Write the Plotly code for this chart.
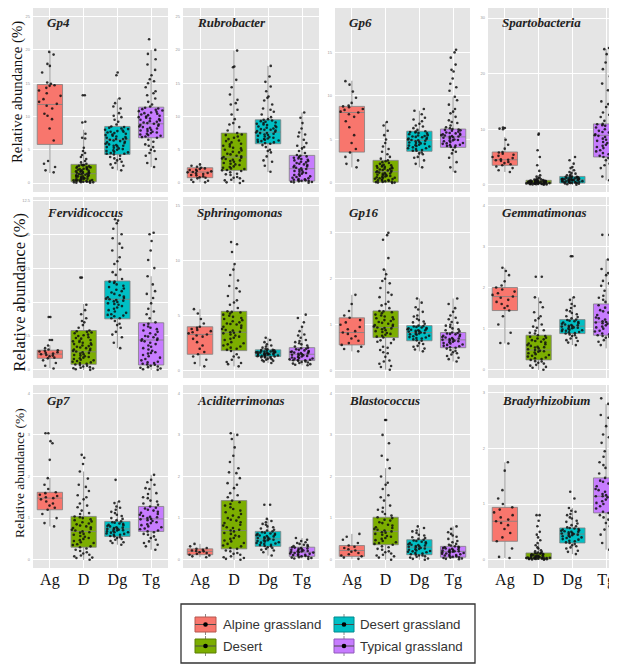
import plotly.graph_objects as go

# ---------------- data ----------------
groups = ["Ag", "D", "Dg", "Tg"]
group_names = ["Alpine grassland", "Desert", "Desert grassland", "Typical grassland"]
panel_titles = ["Gp4", "Rubrobacter", "Gp6", "Spartobacteria",
                "Fervidicoccus", "Sphringomonas", "Gp16", "Gemmatimonas",
                "Gp7", "Aciditerrimonas", "Blastococcus", "Bradyrhizobium"]

# y tick labels per panel
y_ticks = [[0, 5, 10, 15, 20, 25], [0, 5, 10, 15, 20, 25], [0, 5, 10, 15], [0, 10, 20, 30],
           [0, 2.5, 5, 7.5, 10, 12.5], [0, 5, 10, 15], [0, 1, 2, 3], [0, 1, 2, 3, 4],
           [0, 1, 2, 3, 4], [0, 1, 2, 3, 4], [0, 1, 2, 3, 4], [0, 1, 2, 3]]

# box statistics, order Ag, D, Dg, Tg
gp4_box = dict(low=[1.5, 0.0, 1.9, 2.4], q1=[5.8, 0.2, 4.3, 6.8], med=[11.8, 1.4, 6.5, 8.9],
               q3=[14.8, 2.8, 8.5, 11.4], high=[19.7, 8.0, 12.7, 20.0])
rubro_box = dict(low=[0.1, 0.0, 1.65, 0.05], q1=[0.8, 1.9, 5.9, 0.3], med=[1.65, 3.9, 7.65, 2.15],
                 q3=[2.3, 7.5, 9.5, 4.15], high=[2.8, 19.9, 17.6, 10.6])
gp6_box = dict(low=[1.8, 0.0, 1.8, 1.25], q1=[3.55, 0.1, 3.65, 4.1], med=[8.1, 1.3, 4.9, 5.3],
               q3=[8.8, 2.6, 5.95, 6.2], high=[11.75, 7.0, 8.3, 9.85])
sparto_box = dict(low=[2.3, 0.0, 0.0, 0.8], q1=[3.5, 0.2, 0.3, 5.0], med=[4.5, 0.45, 0.9, 8.9],
                  q3=[5.9, 0.8, 1.5, 10.95], high=[8.6, 1.7, 3.2, 24.4])
ferv_box = dict(low=[0.12, 0.0, 1.6, 0.0], q1=[0.85, 0.41, 3.76, 0.36], med=[1.16, 1.33, 5.2, 2.2],
                q3=[1.45, 2.9, 6.55, 3.47], high=[1.8, 4.85, 11.0, 6.9])
sphr_box = dict(low=[0.4, 0.4, 0.7, 0.5], q1=[1.5, 1.83, 1.3, 0.93], med=[3.3, 3.5, 1.6, 1.5],
                q3=[4.0, 5.4, 1.9, 2.1], high=[5.6, 9.7, 3.0, 4.0])
gp16_box = dict(low=[0.42, 0.02, 0.42, 0.2], q1=[0.56, 0.72, 0.65, 0.5], med=[0.83, 0.94, 0.83, 0.67],
                q3=[1.15, 1.3, 0.98, 0.83], high=[1.65, 2.2, 1.57, 1.57])
gemm_box = dict(low=[0.64, 0.0, 0.6, 0.52], q1=[1.44, 0.24, 0.88, 0.84], med=[1.78, 0.48, 1.06, 1.16],
                q3=[2.0, 0.84, 1.22, 1.6], high=[2.48, 1.76, 1.76, 2.68])
gp7_box = dict(low=[0.8, 0.0, 0.36, 0.24], q1=[1.2, 0.3, 0.56, 0.68], med=[1.48, 0.68, 0.74, 0.98],
               q3=[1.62, 1.04, 0.92, 1.28], high=[1.96, 2.12, 1.4, 2.04])
acid_box = dict(low=[0.06, 0.0, 0.1, 0.03], q1=[0.12, 0.26, 0.32, 0.08], med=[0.2, 0.7, 0.5, 0.18],
                q3=[0.26, 1.42, 0.68, 0.3], high=[0.38, 3.04, 0.98, 0.52])
blast_box = dict(low=[0.02, 0.0, 0.0, 0.02], q1=[0.08, 0.36, 0.12, 0.06], med=[0.22, 0.68, 0.3, 0.2],
                 q3=[0.34, 1.02, 0.48, 0.32], high=[0.62, 2.2, 0.76, 0.8])
brady_box = dict(low=[0.03, 0.0, 0.1, 0.18], q1=[0.33, 0.01, 0.3, 0.84], med=[0.69, 0.04, 0.46, 1.14],
                 q3=[0.94, 0.12, 0.57, 1.47], high=[1.75, 0.3, 0.93, 2.8])

# individual samples
gp4_pts = dict(
    Ag=[19.7, 19.3, 17.9, 17.6, 16.6, 15.1, 14.9, 14.7, 14.6, 14.3, 13.9, 13.5, 13.1, 12.6, 12.2, 11.9,
        11.6, 11.2, 10.4, 10.1, 9.6, 8.2, 6.4, 3.3, 2.9, 2.4, 1.9, 1.6],
    D=[0.05, 0.1, 0.12, 0.15, 0.2, 0.25, 0.3, 0.33, 0.4, 0.45, 0.5, 0.6, 0.7, 0.75, 0.8, 0.9, 1.0, 1.05,
       1.1, 1.2, 1.3, 1.4, 1.5, 1.55, 1.6, 1.7, 1.8, 1.9, 2.0, 2.1, 2.2, 2.3, 2.4, 2.5, 2.6, 2.7, 2.9, 3.1,
       3.3, 3.6, 3.9, 4.2, 4.5, 4.8, 5.3, 6.7, 6.8, 7.4, 9.1, 9.2, 13.2, 13.2,
       0.1, 0.2, 0.3, 0.35, 0.45, 0.55, 0.65, 0.8, 0.95, 1.15, 1.25, 1.35, 1.45, 1.65, 1.75, 1.85, 2.05,
       2.15, 2.35, 2.45, 2.65, 2.75, 0.05, 0.5, 1.0],
    Dg=[1.9, 2.3, 2.6, 2.8, 3.0, 3.2, 3.4, 3.7, 3.9, 4.1, 4.3, 4.4, 4.6, 4.8, 4.9, 5.1, 5.3, 5.5, 5.6, 5.8,
        6.0, 6.1, 6.3, 6.5, 6.6, 6.8, 7.0, 7.1, 7.3, 7.5, 7.7, 7.9, 8.1, 8.3, 8.5, 8.8, 9.2, 9.5, 9.9,
        10.5, 11.2, 12.0, 12.7, 16.2, 16.6,
        4.4, 4.7, 5.0, 5.2, 5.4, 5.7, 5.9, 6.2, 6.4, 6.7, 6.9, 7.2, 7.4, 7.6, 7.8, 8.0, 8.2, 8.4, 4.5, 5.6,
        6.6, 7.7, 3.6, 10.1, 11.5],
    Tg=[2.4, 3.0, 3.6, 4.1, 4.5, 5.0, 5.4, 5.8, 6.2, 6.5, 6.8, 7.0, 7.2, 7.4, 7.6, 7.8, 8.0, 8.2, 8.4, 8.6,
        8.8, 8.9, 9.1, 9.3, 9.5, 9.7, 9.9, 10.1, 10.3, 10.5, 10.7, 10.9, 11.1, 11.3, 11.5, 11.8, 12.2,
        12.7, 13.2, 13.8, 14.4, 15.0, 15.6, 16.2, 17.0, 17.8, 18.6, 19.4, 20.0, 21.6,
        6.9, 7.1, 7.3, 7.5, 7.7, 7.9, 8.1, 8.3, 8.5, 8.7, 9.0, 9.2, 9.4, 9.6, 9.8, 10.0, 10.2, 10.4, 10.6,
        10.8, 11.0, 11.2, 4.8, 5.6, 13.5, 15.3])
rubro_pts = dict(
    Ag=[0.1, 0.15, 0.35, 0.5, 0.7, 0.8, 0.85, 1.0, 1.15, 1.2, 1.35, 1.45, 1.5, 1.6, 1.65, 1.75, 1.8, 1.95,
        2.0, 2.1, 2.2, 2.3, 2.45, 2.6, 2.8],
    D=[0.0, 0.1, 0.3, 0.5, 0.7, 0.9, 1.2, 1.4, 1.6, 1.8, 1.9, 2.1, 2.3, 2.5, 2.8, 3.0, 3.3, 3.5, 3.7, 3.9,
       4.1, 4.4, 4.7, 5.0, 5.3, 5.6, 5.9, 6.3, 6.6, 7.0, 7.3, 7.5, 7.9, 8.4, 9.0, 9.6, 10.3, 11.0, 11.8,
       12.5, 13.3, 14.4, 15.5, 17.4, 17.5, 19.9,
       1.95, 2.2, 2.4, 2.7, 2.9, 3.2, 3.4, 3.6, 3.8, 4.0, 4.3, 4.6, 4.9, 5.2, 5.5, 5.8, 6.1, 6.4, 6.8, 7.2,
       0.4, 0.8, 1.3, 8.8, 12.0],
    Dg=[1.7, 2.6, 3.4, 4.0, 4.6, 5.0, 5.4, 5.7, 5.9, 6.1, 6.3, 6.5, 6.7, 6.9, 7.1, 7.3, 7.5, 7.7, 7.8, 8.0,
        8.2, 8.4, 8.6, 8.8, 9.0, 9.2, 9.4, 9.6, 9.9, 10.3, 10.7, 11.2, 11.8, 12.4, 13.0, 13.8, 14.5, 15.2,
        16.0, 17.6,
        6.0, 6.2, 6.4, 6.6, 6.8, 7.0, 7.2, 7.4, 7.6, 7.9, 8.1, 8.3, 8.5, 8.7, 8.9, 9.1, 9.3, 9.5, 6.5, 7.5,
        8.0, 4.8, 11.0, 12.8, 3.2],
    Tg=[0.05, 0.1, 0.2, 0.3, 0.35, 0.5, 0.6, 0.8, 1.0, 1.2, 1.4, 1.6, 1.8, 2.0, 2.2, 2.4, 2.6, 2.8, 3.0,
        3.2, 3.4, 3.6, 3.8, 4.0, 4.2, 4.5, 4.8, 5.2, 5.6, 6.0, 6.5, 7.0, 7.6, 8.2, 9.0, 9.8, 10.6,
        0.25, 0.4, 0.45, 0.7, 0.9, 1.1, 1.3, 1.5, 1.7, 1.9, 2.1, 2.3, 2.5, 2.7, 2.9, 3.1, 3.3, 3.5, 3.7,
        3.9, 4.1, 0.15, 0.55, 5.4, 7.3])
gp6_pts = dict(
    Ag=[1.8, 2.2, 2.6, 3.0, 3.5, 3.9, 4.6, 5.5, 6.4, 7.1, 7.6, 7.9, 8.1, 8.2, 8.4, 8.5, 8.7, 8.8, 8.9, 9.2,
        9.8, 10.5, 11.3, 11.7],
    D=[0.0, 0.05, 0.1, 0.15, 0.2, 0.3, 0.4, 0.5, 0.6, 0.7, 0.8, 0.9, 1.0, 1.1, 1.2, 1.3, 1.4, 1.5, 1.6, 1.7,
       1.8, 1.9, 2.0, 2.1, 2.3, 2.4, 2.6, 2.8, 3.0, 3.3, 3.6, 3.9, 4.2, 4.6, 5.0, 5.5, 6.0, 6.6, 7.0,
       0.05, 0.12, 0.25, 0.35, 0.45, 0.55, 0.65, 0.75, 0.85, 0.95, 1.05, 1.15, 1.25, 1.35, 1.45, 1.55,
       1.65, 1.75, 1.85, 1.95, 2.05, 2.2, 2.5, 0.3, 0.6],
    Dg=[1.8, 2.2, 2.6, 3.0, 3.3, 3.5, 3.7, 3.9, 4.0, 4.2, 4.3, 4.5, 4.6, 4.8, 4.9, 5.0, 5.1, 5.3, 5.4, 5.5,
        5.7, 5.8, 5.9, 6.1, 6.3, 6.5, 6.8, 7.1, 7.5, 7.9, 8.3, 8.5,
        3.7, 3.8, 4.0, 4.1, 4.25, 4.4, 4.55, 4.7, 4.85, 4.95, 5.05, 5.2, 5.35, 5.45, 5.6, 5.75, 5.85, 5.95,
        4.35, 5.25, 2.9, 6.6, 7.3, 3.4, 4.65],
    Tg=[1.3, 1.8, 2.4, 2.9, 3.4, 3.8, 4.1, 4.3, 4.5, 4.6, 4.8, 4.9, 5.0, 5.2, 5.3, 5.4, 5.6, 5.7, 5.8, 6.0,
        6.1, 6.2, 6.4, 6.6, 6.9, 7.2, 7.6, 8.0, 8.5, 9.0, 9.5, 9.9, 10.6, 11.4, 12.0, 12.8, 13.6, 14.4,
        15.0, 15.3,
        4.15, 4.25, 4.4, 4.55, 4.7, 4.85, 4.95, 5.1, 5.25, 5.35, 5.5, 5.65, 5.75, 5.9, 6.05, 6.15, 4.35,
        5.45, 5.55, 6.3, 3.6, 7.0, 8.2, 11.0, 13.0])
sparto_pts = dict(
    Ag=[2.3, 2.6, 3.0, 3.3, 3.5, 3.7, 3.9, 4.1, 4.3, 4.4, 4.5, 4.6, 4.8, 5.0, 5.2, 5.4, 5.6, 5.8, 5.9, 6.5,
        7.2, 8.1, 10.0, 10.1, 10.2, 10.3],
    D=[0.0, 0.05, 0.1, 0.1, 0.15, 0.2, 0.2, 0.25, 0.3, 0.3, 0.35, 0.4, 0.4, 0.45, 0.5, 0.5, 0.55, 0.6, 0.65,
       0.7, 0.75, 0.8, 0.85, 0.9, 1.0, 1.1, 1.3, 1.5, 1.7, 2.5, 3.5, 5.0, 6.2, 9.0, 9.2,
       0.22, 0.28, 0.32, 0.38, 0.42, 0.48, 0.52, 0.58, 0.62, 0.68, 0.72, 0.78, 0.05, 0.12, 0.18, 0.25,
       0.35, 0.45, 0.55, 0.65, 0.95, 1.2, 0.15, 0.6, 0.3],
    Dg=[0.0, 0.1, 0.2, 0.3, 0.35, 0.4, 0.5, 0.6, 0.7, 0.8, 0.85, 0.9, 0.95, 1.0, 1.1, 1.2, 1.3, 1.4, 1.5,
        1.6, 1.8, 2.0, 2.3, 2.6, 3.0, 3.2, 3.8, 4.4, 5.0,
        0.32, 0.45, 0.55, 0.65, 0.75, 0.78, 0.88, 0.92, 1.02, 1.05, 1.15, 1.25, 1.35, 1.45, 0.38, 0.62,
        0.82, 1.08, 1.22, 0.25, 1.7, 2.1, 0.5, 0.7, 1.0],
    Tg=[0.8, 1.5, 2.3, 3.0, 3.8, 4.4, 5.0, 5.5, 6.0, 6.6, 7.0, 7.5, 7.9, 8.3, 8.6, 8.9, 9.2, 9.5, 9.8,
        10.1, 10.4, 10.7, 10.95, 11.5, 12.2, 13.0, 14.0, 15.0, 16.0, 17.0, 18.2, 19.5, 20.8, 22.0, 23.5,
        24.4, 24.6,
        5.2, 5.7, 6.2, 6.8, 7.2, 7.7, 8.1, 8.5, 8.8, 9.0, 9.4, 9.7, 10.0, 10.3, 10.6, 10.9, 5.9, 7.4, 9.1,
        6.4, 4.8, 12.6, 14.5, 3.5, 11.2])
ferv_pts = dict(
    Ag=[0.1, 0.3, 0.5, 0.7, 0.85, 0.9, 1.0, 1.05, 1.1, 1.15, 1.2, 1.25, 1.3, 1.35, 1.4, 1.45, 1.5, 1.6, 1.8,
        2.2, 2.2, 3.9, 3.9],
    D=[0.0, 0.05, 0.1, 0.15, 0.2, 0.3, 0.35, 0.4, 0.5, 0.6, 0.7, 0.8, 0.9, 1.0, 1.1, 1.2, 1.3, 1.4, 1.5,
       1.6, 1.7, 1.8, 1.9, 2.0, 2.1, 2.2, 2.3, 2.4, 2.5, 2.6, 2.7, 2.8, 2.9, 3.1, 3.3, 3.5, 3.8, 4.1, 4.4,
       4.8, 6.8, 6.8,
       0.45, 0.55, 0.65, 0.75, 0.85, 0.95, 1.05, 1.15, 1.25, 1.35, 1.45, 1.55, 1.65, 1.75, 1.85, 1.95,
       2.05, 2.15, 2.35, 2.55, 2.75, 2.85, 0.25, 0.12, 3.6],
    Dg=[1.6, 2.0, 2.4, 2.8, 3.1, 3.4, 3.6, 3.8, 4.0, 4.2, 4.4, 4.6, 4.8, 5.0, 5.1, 5.2, 5.3, 5.5, 5.7, 5.9,
        6.1, 6.3, 6.5, 6.7, 7.0, 7.4, 7.8, 8.3, 8.8, 9.3, 9.7, 10.0, 10.4, 10.8, 11.0, 11.1,
        3.8, 3.95, 4.1, 4.3, 4.5, 4.7, 4.9, 5.05, 5.15, 5.25, 5.4, 5.6, 5.8, 6.0, 6.2, 6.4, 6.5, 4.05,
        4.85, 5.35, 2.6, 7.2, 8.0, 9.0, 3.3],
    Tg=[0.0, 0.05, 0.1, 0.2, 0.3, 0.4, 0.5, 0.7, 0.9, 1.1, 1.3, 1.5, 1.7, 1.9, 2.1, 2.2, 2.3, 2.5, 2.7,
        2.9, 3.1, 3.3, 3.5, 3.8, 4.1, 4.5, 4.9, 5.3, 5.8, 6.3, 6.9, 7.5, 8.1, 8.8, 9.5, 10.0, 10.1,
        0.38, 0.45, 0.6, 0.8, 1.0, 1.2, 1.4, 1.6, 1.8, 2.0, 2.15, 2.25, 2.4, 2.6, 2.8, 3.0, 3.2, 3.4, 0.15,
        0.25, 0.55, 1.25, 2.45, 4.3, 5.6])
sphr_pts = dict(
    Ag=[0.4, 0.7, 1.0, 1.3, 1.5, 1.7, 2.0, 2.3, 2.6, 2.9, 3.1, 3.2, 3.3, 3.4, 3.5, 3.6, 3.7, 3.8, 3.9, 4.0,
        4.3, 4.7, 5.2, 5.6],
    D=[0.4, 0.6, 0.8, 1.0, 1.2, 1.5, 1.8, 2.0, 2.3, 2.5, 2.8, 3.0, 3.2, 3.4, 3.5, 3.7, 3.9, 4.1, 4.3, 4.5,
       4.7, 4.9, 5.1, 5.3, 5.4, 5.7, 6.0, 6.4, 6.8, 7.2, 7.7, 8.2, 8.7, 9.2, 9.7, 10.8, 11.5, 11.7,
       1.9, 2.1, 2.4, 2.6, 2.9, 3.1, 3.3, 3.45, 3.55, 3.8, 4.0, 4.2, 4.4, 4.6, 4.8, 5.0, 5.2, 5.35, 2.2,
       3.65, 4.25, 1.3, 0.7, 6.2, 7.5],
    Dg=[0.7, 0.9, 1.0, 1.1, 1.2, 1.25, 1.3, 1.35, 1.4, 1.45, 1.5, 1.55, 1.6, 1.65, 1.7, 1.75, 1.8, 1.85,
        1.9, 2.0, 2.2, 2.4, 2.6, 2.8, 3.0,
        1.32, 1.38, 1.42, 1.48, 1.52, 1.58, 1.62, 1.68, 1.72, 1.78, 1.82, 1.88, 1.22, 1.15, 1.05, 0.95,
        0.85, 1.95, 2.1, 2.3, 1.47, 1.57, 1.67, 1.27, 1.75],
    Tg=[0.5, 0.6, 0.7, 0.8, 0.9, 0.95, 1.0, 1.1, 1.2, 1.3, 1.4, 1.5, 1.6, 1.7, 1.8, 1.9, 2.0, 2.1, 2.2,
        2.4, 2.6, 2.8, 3.0, 3.3, 3.6, 4.0, 4.4, 4.8, 5.1,
        0.95, 1.05, 1.15, 1.25, 1.35, 1.45, 1.55, 1.65, 1.75, 1.85, 1.95, 2.05, 0.85, 0.75, 0.65, 0.55,
        2.3, 2.5, 2.7, 3.2, 1.12, 1.42, 1.72, 0.98, 1.6])
gp16_pts = dict(
    Ag=[0.42, 0.47, 0.52, 0.56, 0.6, 0.65, 0.7, 0.75, 0.8, 0.83, 0.86, 0.9, 0.95, 1.0, 1.05, 1.1, 1.15,
        1.2, 1.3, 1.45, 1.65],
    D=[0.02, 0.08, 0.15, 0.22, 0.3, 0.38, 0.45, 0.52, 0.6, 0.66, 0.72, 0.76, 0.8, 0.84, 0.88, 0.92, 0.94,
       0.97, 1.0, 1.04, 1.08, 1.12, 1.16, 1.2, 1.25, 1.3, 1.36, 1.42, 1.5, 1.6, 1.7, 1.8, 1.9, 2.0, 2.1,
       2.2, 2.45, 2.85, 2.95, 3.0,
       0.74, 0.78, 0.82, 0.86, 0.9, 0.93, 0.96, 0.99, 1.02, 1.06, 1.1, 1.14, 1.18, 1.22, 1.27, 1.29, 0.5,
       0.4, 0.2, 0.1, 1.45, 1.65, 1.95, 0.63, 0.68],
    Dg=[0.42, 0.48, 0.54, 0.6, 0.65, 0.68, 0.72, 0.75, 0.78, 0.81, 0.83, 0.85, 0.88, 0.9, 0.92, 0.95,
        0.98, 1.02, 1.07, 1.13, 1.2, 1.28, 1.38, 1.48, 1.57,
        0.66, 0.7, 0.73, 0.76, 0.79, 0.82, 0.84, 0.86, 0.87, 0.89, 0.91, 0.93, 0.94, 0.96, 0.97, 0.58,
        0.52, 0.46, 1.05, 1.1, 1.18, 1.33, 0.8, 0.88, 0.71],
    Tg=[0.2, 0.28, 0.35, 0.4, 0.45, 0.5, 0.53, 0.56, 0.59, 0.62, 0.65, 0.67, 0.7, 0.72, 0.75, 0.78, 0.8,
        0.83, 0.86, 0.9, 0.95, 1.0, 1.06, 1.12, 1.2, 1.28, 1.36, 1.45, 1.57,
        0.51, 0.54, 0.57, 0.6, 0.63, 0.66, 0.68, 0.71, 0.73, 0.76, 0.79, 0.81, 0.82, 0.48, 0.43, 0.38,
        0.32, 0.25, 0.88, 0.92, 0.98, 1.04, 1.15, 0.64, 0.69])
gemm_pts = dict(
    Ag=[0.64, 0.65, 0.9, 1.1, 1.3, 1.44, 1.5, 1.55, 1.6, 1.65, 1.7, 1.75, 1.78, 1.82, 1.86, 1.9, 1.95, 2.0,
        2.05, 2.15, 2.3, 2.4, 2.48],
    D=[0.0, 0.05, 0.1, 0.15, 0.2, 0.24, 0.28, 0.32, 0.36, 0.4, 0.44, 0.48, 0.52, 0.56, 0.6, 0.64, 0.68,
       0.72, 0.76, 0.8, 0.84, 0.9, 0.96, 1.02, 1.1, 1.2, 1.3, 1.4, 1.52, 1.64, 1.76, 2.26, 2.26,
       0.26, 0.3, 0.34, 0.38, 0.42, 0.46, 0.5, 0.54, 0.58, 0.62, 0.66, 0.7, 0.74, 0.78, 0.82, 0.21, 0.17,
       0.12, 0.07, 0.88, 0.95, 1.05, 1.25, 0.45, 0.55],
    Dg=[0.6, 0.66, 0.72, 0.78, 0.84, 0.88, 0.92, 0.95, 0.98, 1.01, 1.04, 1.06, 1.09, 1.12, 1.15, 1.18,
        1.22, 1.28, 1.35, 1.42, 1.5, 1.6, 1.7, 1.76, 2.76, 2.76,
        0.89, 0.91, 0.94, 0.97, 1.0, 1.03, 1.05, 1.07, 1.1, 1.13, 1.16, 1.19, 1.21, 0.86, 0.82, 0.76, 0.7,
        1.25, 1.3, 1.38, 1.45, 1.55, 1.02, 1.08, 0.96],
    Tg=[0.52, 0.6, 0.68, 0.74, 0.8, 0.84, 0.88, 0.93, 0.98, 1.03, 1.08, 1.13, 1.16, 1.2, 1.25, 1.3, 1.36,
        1.42, 1.48, 1.54, 1.6, 1.7, 1.8, 1.92, 2.04, 2.16, 2.3, 2.45, 2.58, 2.68, 3.28, 3.28,
        0.86, 0.9, 0.95, 1.0, 1.05, 1.1, 1.15, 1.18, 1.22, 1.27, 1.33, 1.39, 1.45, 1.51, 1.57, 0.82, 0.78,
        0.72, 0.64, 1.65, 1.75, 1.88, 2.1, 2.35, 1.12])
gp7_pts = dict(
    Ag=[0.8, 0.88, 1.0, 1.1, 1.2, 1.25, 1.3, 1.35, 1.4, 1.45, 1.48, 1.5, 1.53, 1.56, 1.6, 1.62, 1.7, 1.8,
        1.96, 2.4, 2.8, 2.85, 3.04, 3.04],
    D=[0.0, 0.04, 0.08, 0.12, 0.18, 0.24, 0.3, 0.35, 0.4, 0.45, 0.5, 0.55, 0.6, 0.65, 0.68, 0.72, 0.76,
       0.8, 0.85, 0.9, 0.95, 1.0, 1.04, 1.1, 1.18, 1.26, 1.35, 1.45, 1.55, 1.65, 1.8, 1.95, 2.12, 2.3,
       2.45, 2.52,
       0.32, 0.37, 0.42, 0.47, 0.52, 0.57, 0.62, 0.66, 0.7, 0.74, 0.78, 0.82, 0.87, 0.92, 0.97, 1.02,
       0.27, 0.21, 0.15, 0.1, 0.05, 1.12, 1.3, 1.5, 1.75],
    Dg=[0.36, 0.42, 0.48, 0.52, 0.56, 0.6, 0.63, 0.66, 0.69, 0.72, 0.74, 0.77, 0.8, 0.83, 0.86, 0.89,
        0.92, 0.98, 1.05, 1.12, 1.2, 1.28, 1.36, 1.4, 1.92,
        0.57, 0.6, 0.62, 0.65, 0.68, 0.7, 0.73, 0.75, 0.78, 0.81, 0.84, 0.87, 0.9, 0.54, 0.5, 0.45, 0.4,
        0.95, 1.0, 1.08, 1.15, 1.25, 0.71, 0.76, 0.66],
    Tg=[0.24, 0.32, 0.4, 0.48, 0.56, 0.62, 0.68, 0.73, 0.78, 0.83, 0.88, 0.93, 0.98, 1.03, 1.08, 1.13,
        1.18, 1.23, 1.28, 1.35, 1.42, 1.5, 1.6, 1.7, 1.8, 1.92, 2.04,
        0.7, 0.75, 0.8, 0.85, 0.9, 0.95, 1.0, 1.05, 1.1, 1.15, 1.2, 1.25, 0.66, 0.6, 0.52, 0.44, 0.36,
        1.32, 1.4, 1.48, 1.58, 1.72, 1.86, 0.97, 1.02])
acid_pts = dict(
    Ag=[0.06, 0.08, 0.1, 0.12, 0.14, 0.16, 0.18, 0.2, 0.21, 0.22, 0.24, 0.26, 0.28, 0.32, 0.38],
    D=[0.0, 0.04, 0.08, 0.12, 0.16, 0.2, 0.26, 0.32, 0.38, 0.44, 0.5, 0.56, 0.62, 0.68, 0.72, 0.78, 0.84,
       0.9, 0.96, 1.02, 1.1, 1.18, 1.26, 1.34, 1.42, 1.5, 1.6, 1.72, 1.84, 1.96, 2.08, 2.2, 2.35, 2.5, 2.7,
       2.9, 3.0, 3.04,
       0.28, 0.34, 0.4, 0.46, 0.52, 0.58, 0.64, 0.7, 0.76, 0.82, 0.88, 0.94, 1.0, 1.06, 1.14, 1.22, 1.3,
       1.38, 0.22, 0.14, 0.06, 0.02, 1.55, 1.8, 2.1],
    Dg=[0.1, 0.18, 0.24, 0.28, 0.32, 0.35, 0.38, 0.41, 0.44, 0.47, 0.5, 0.53, 0.56, 0.59, 0.62, 0.65,
        0.68, 0.72, 0.78, 0.84, 0.9, 0.98, 1.32, 1.32,
        0.33, 0.36, 0.39, 0.42, 0.45, 0.48, 0.51, 0.54, 0.57, 0.6, 0.63, 0.66, 0.3, 0.26, 0.22, 0.7, 0.75,
        0.8, 0.86, 0.46, 0.52, 0.58, 0.4, 0.62, 0.93],
    Tg=[0.03, 0.05, 0.07, 0.08, 0.1, 0.12, 0.14, 0.16, 0.18, 0.2, 0.22, 0.24, 0.26, 0.28, 0.3, 0.33,
        0.36, 0.4, 0.45, 0.52,
        0.09, 0.11, 0.13, 0.15, 0.17, 0.19, 0.21, 0.23, 0.25, 0.27, 0.29, 0.06, 0.04, 0.02, 0.32, 0.35,
        0.38, 0.42, 0.48, 0.2])
blast_pts = dict(
    Ag=[0.02, 0.05, 0.08, 0.1, 0.13, 0.16, 0.19, 0.22, 0.25, 0.28, 0.31, 0.34, 0.4, 0.48, 0.55, 0.62],
    D=[0.0, 0.05, 0.1, 0.15, 0.2, 0.26, 0.32, 0.36, 0.4, 0.45, 0.5, 0.55, 0.6, 0.65, 0.68, 0.72, 0.76,
       0.82, 0.88, 0.94, 1.02, 1.1, 1.2, 1.3, 1.42, 1.55, 1.7, 1.85, 2.0, 2.2, 2.5, 2.8, 3.0, 3.36, 3.36,
       0.38, 0.42, 0.47, 0.52, 0.57, 0.62, 0.66, 0.7, 0.74, 0.78, 0.84, 0.9, 0.96, 1.0, 0.3, 0.24, 0.18,
       0.12, 0.08, 1.06, 1.15, 1.25, 1.5, 1.8, 2.4],
    Dg=[0.0, 0.03, 0.07, 0.1, 0.12, 0.15, 0.18, 0.21, 0.24, 0.27, 0.3, 0.33, 0.36, 0.39, 0.42, 0.45,
        0.48, 0.54, 0.6, 0.68, 0.76, 0.8,
        0.13, 0.16, 0.19, 0.22, 0.25, 0.28, 0.31, 0.34, 0.37, 0.4, 0.43, 0.46, 0.1, 0.08, 0.05, 0.02, 0.5,
        0.52, 0.58, 0.64, 0.7, 0.26, 0.32, 0.35, 0.2],
    Tg=[0.02, 0.04, 0.06, 0.08, 0.1, 0.13, 0.16, 0.19, 0.2, 0.22, 0.25, 0.28, 0.3, 0.32, 0.36, 0.42,
        0.5, 0.58, 0.66, 0.74, 0.8,
        0.07, 0.09, 0.11, 0.12, 0.14, 0.15, 0.17, 0.18, 0.21, 0.23, 0.24, 0.26, 0.27, 0.29, 0.31, 0.05,
        0.03, 0.01, 0.34, 0.38, 0.45, 0.55, 0.62, 0.2, 0.19])
brady_pts = dict(
    Ag=[0.03, 0.05, 0.2, 0.33, 0.4, 0.48, 0.55, 0.62, 0.66, 0.69, 0.72, 0.76, 0.8, 0.85, 0.9, 0.94, 1.0,
        1.1, 1.25, 1.6, 1.75],
    D=[0.0, 0.005, 0.01, 0.015, 0.02, 0.025, 0.03, 0.035, 0.04, 0.045, 0.05, 0.06, 0.07, 0.08, 0.09, 0.1,
       0.11, 0.12, 0.15, 0.2, 0.26, 0.3, 0.4, 0.5, 0.6, 0.7, 0.8, 0.8,
       0.008, 0.012, 0.018, 0.022, 0.028, 0.032, 0.038, 0.042, 0.048, 0.055, 0.065, 0.075, 0.085, 0.095,
       0.105, 0.115, 0.13, 0.14, 0.17, 0.22, 0.35, 0.45, 0.02, 0.03, 0.04],
    Dg=[0.1, 0.16, 0.22, 0.26, 0.3, 0.33, 0.36, 0.39, 0.42, 0.44, 0.46, 0.48, 0.5, 0.52, 0.55, 0.57, 0.6,
        0.65, 0.7, 0.76, 0.82, 0.88, 0.93, 1.1, 1.22,
        0.31, 0.34, 0.37, 0.4, 0.43, 0.45, 0.47, 0.49, 0.51, 0.53, 0.54, 0.56, 0.28, 0.24, 0.2, 0.14, 0.58,
        0.62, 0.68, 0.74, 0.8, 0.86, 0.41, 0.46, 0.5],
    Tg=[0.18, 0.3, 0.45, 0.6, 0.72, 0.84, 0.9, 0.96, 1.0, 1.05, 1.1, 1.14, 1.18, 1.22, 1.27, 1.32, 1.37,
        1.42, 1.47, 1.55, 1.65, 1.75, 1.85, 1.95, 2.1, 2.25, 2.4, 2.55, 2.7, 2.8, 2.9,
        0.86, 0.92, 0.98, 1.02, 1.08, 1.12, 1.16, 1.2, 1.25, 1.3, 1.35, 1.4, 1.45, 0.8, 0.76, 0.66, 0.54,
        0.4, 1.52, 1.6, 1.7, 1.9, 2.2, 2.6, 1.14])

panel_boxes = [gp4_box, rubro_box, gp6_box, sparto_box, ferv_box, sphr_box,
               gp16_box, gemm_box, gp7_box, acid_box, blast_box, brady_box]
panel_points = [gp4_pts, rubro_pts, gp6_pts, sparto_pts, ferv_pts, sphr_pts,
                gp16_pts, gemm_pts, gp7_pts, acid_pts, blast_pts, brady_pts]

# ---------------- layout / style ----------------
OFF = 8                      # the page body adds an 8px margin
W, H = 617 - OFF, 666 - OFF


def px_x(p):
    return (p - OFF) / W


def px_y(p):
    return 1 - (p - OFF) / H


colors = ["#F8766D", "#7CAE00", "#00BFC4", "#C77CFF"]
edge_colors = ["#b5564f", "#5a7f00", "#008a8e", "#9159bb"]
col_px = [(33, 168), (183, 319), (335, 470), (488, 617)]
row_px = [(8, 192), (197, 378), (385, 568)]
y_ranges = [[-1.35, 26.3], [-1.35, 26.3], [-1.03, 20.1], [-1.3, 31.8],
            [-0.6, 12.74], [-0.66, 15.8], [-0.16, 3.78], [-0.2, 4.2],
            [-0.2, 4.2], [-0.2, 4.2], [-0.2, 4.2], [-0.15, 3.14]]
serif = "Liberation Serif, Times New Roman, serif"
sans = "Liberation Sans, Arial, sans-serif"

fig = go.Figure()
layout = dict(width=W, height=H, autosize=False, margin=dict(l=0, r=0, t=0, b=0, pad=0),
              paper_bgcolor="white", plot_bgcolor="#E5E5E5", boxmode="overlay",
              showlegend=False)
annotations = []
shapes = []

for i in range(12):
    r, c = divmod(i, 4)
    ax = "" if i == 0 else str(i + 1)
    xa, ya = "x" + ax, "y" + ax
    x0, x1 = col_px[c]
    y0, y1 = row_px[r]
    xr = [-0.5, 3.5] if c < 3 else [-0.5, 3.5 - (135 - (x1 - x0)) / 33.75]
    layout["xaxis" + ax] = dict(domain=[max(0, px_x(x0)), min(1, px_x(x1))], anchor=ya, type="category",
                                categoryorder="array", categoryarray=groups, range=xr,
                                showgrid=True, gridcolor="white", gridwidth=0.8, zeroline=False,
                                showticklabels=(r == 2), ticks="",
                                tickfont=dict(family=serif, size=16, color="#111"),
                                showline=False, fixedrange=True)
    layout["yaxis" + ax] = dict(domain=[max(0, px_y(y1)), min(1, px_y(y0))], anchor=xa,
                                range=y_ranges[i],
                                tickvals=y_ticks[i], showgrid=True, gridcolor="white", gridwidth=0.8,
                                zeroline=False, ticks="", ticklabelstandoff=2,
                                tickfont=dict(family=sans, size=4, color="#9a9a9a"),
                                showline=False, fixedrange=True)
    bx = panel_boxes[i]
    pts = panel_points[i]
    for g in range(4):
        fig.add_trace(go.Box(
            x=[groups[g]], q1=[bx["q1"][g]], median=[bx["med"][g]], q3=[bx["q3"][g]],
            lowerfence=[bx["low"][g]], upperfence=[bx["high"][g]],
            name=group_names[g], showlegend=False, whiskerwidth=0,
            fillcolor=colors[g], line=dict(color="#808080", width=0.8),
            boxpoints=False, width=0.75, xaxis=xa, yaxis=ya))
        vals = pts[groups[g]]
        fig.add_trace(go.Box(
            x=[groups[g]] * len(vals), y=vals, name=group_names[g], showlegend=False,
            boxpoints="all", jitter=1, pointpos=0, width=0.75, whiskerwidth=0,
            fillcolor="rgba(0,0,0,0)", line=dict(color="rgba(0,0,0,0)", width=0),
            marker=dict(color="#111111", size=2.6, opacity=0.85),
            xaxis=xa, yaxis=ya))
    annotations.append(dict(text="<b><i>%s</i></b>" % panel_titles[i], xref="paper", yref="paper",
                            x=px_x(x0 + 12), y=px_y(y0 + 15), xanchor="left", yanchor="middle",
                            showarrow=False, font=dict(family=serif, size=13, color="#222")))

row_title_x = [18, 18.5, 19]
row_title_y = [92, 292, 473]
row_title_size = [14.8, 16.5, 13.5]
for r in range(3):
    annotations.append(dict(text="Relative abundance (%)", xref="paper", yref="paper",
                            x=px_x(row_title_x[r]), y=px_y(row_title_y[r]), xanchor="center",
                            yanchor="middle", textangle=-90, showarrow=False,
                            font=dict(family=serif, size=row_title_size[r], color="#111")))

# legend (drawn as a key box with two columns)
key_cols = [(195, 216, 221), (334, 354, 358)]   # icon left, icon right, text left
key_rows = [(617, 632), (639, 653)]             # icon top, icon bottom
key_pos = [(0, 0), (0, 1), (1, 0), (1, 1)]      # Ag, D, Dg, Tg
for g in range(4):
    cc, rr = key_pos[g]
    il, ir, tl = key_cols[cc]
    it, ib = key_rows[rr]
    cx, cy = (il + ir) / 2, (it + ib) / 2
    shapes.append(dict(type="line", xref="paper", yref="paper", x0=px_x(cx), x1=px_x(cx),
                       y0=px_y(it - 3), y1=px_y(ib + 3), line=dict(color="#8a8a8a", width=1)))
    shapes.append(dict(type="rect", xref="paper", yref="paper", x0=px_x(il), x1=px_x(ir),
                       y0=px_y(ib), y1=px_y(it), fillcolor=colors[g],
                       line=dict(color=edge_colors[g], width=1)))
    shapes.append(dict(type="line", xref="paper", yref="paper", x0=px_x(il), x1=px_x(ir),
                       y0=px_y(cy), y1=px_y(cy), line=dict(color="#4a4a4a", width=1)))
    shapes.append(dict(type="circle", xref="paper", yref="paper", x0=px_x(cx - 2.3),
                       x1=px_x(cx + 2.3), y0=px_y(cy + 2.3), y1=px_y(cy - 2.3),
                       fillcolor="#000", line=dict(color="#000", width=0)))
    annotations.append(dict(text=group_names[g], xref="paper", yref="paper", x=px_x(tl),
                            y=px_y(cy), xanchor="left", yanchor="middle", showarrow=False,
                            font=dict(family=sans, size=13.3, color="#333")))
shapes.append(dict(type="rect", xref="paper", yref="paper", x0=px_x(181), x1=px_x(475),
                   y0=px_y(663), y1=px_y(604), line=dict(color="#333", width=1.3),
                   fillcolor="rgba(0,0,0,0)"))

layout["shapes"] = shapes
layout["annotations"] = annotations
fig.update_layout(**layout)
fig.write_html("out.html")
